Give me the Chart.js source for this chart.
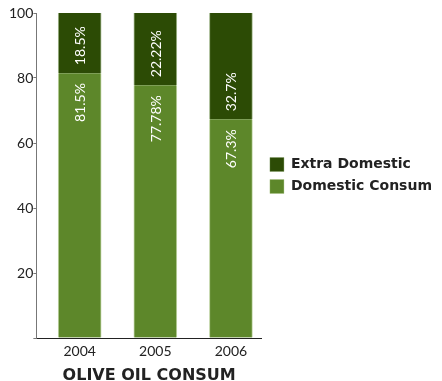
<!DOCTYPE html>
<html>
<head>
<meta charset="utf-8">
<script src="https://cdn.jsdelivr.net/npm/chart.js@4/dist/chart.umd.min.js"></script>
<style>
	body { margin: 0; background: #fff; }
	#myChart { display: block; }
</style>
</head>
<body>
<canvas id="myChart" width="442" height="381"></canvas>
<script>

var years = ["2004", "2005", "2006"];
var domesticConsum = [81.5, 77.78, 67.3];
var extraDomestic = [18.5, 22.22, 32.7];
var yTicks = [0, 20, 40, 60, 80, 100];

var darkGreen = "#2c4b05";
var lightGreen = "#5d872a";

// writes the percentage sideways inside each bar segment
var segmentLabels = {
	id: "segmentLabels",
	afterDatasetsDraw: function(chart){
		var ctx = chart.ctx;
		ctx.save();
		ctx.fillStyle = "#fff";
		ctx.font = "14px Lato";
		ctx.textBaseline = "middle";
		chart.data.datasets.forEach(function(ds, d){
			var meta = chart.getDatasetMeta(d);
			meta.data.forEach(function(bar, i){
				var txt = ds.data[i].y + "%";
				ctx.save();
				if (d == 0) {
					ctx.translate(bar.x, bar.y + 10);
					ctx.rotate(-Math.PI / 2);
					ctx.textAlign = "right";
				} else {
					ctx.translate(bar.x, bar.base - 8);
					ctx.rotate(-Math.PI / 2);
					ctx.textAlign = "left";
				}
				ctx.fillText(txt, 0, 1);
				ctx.restore();
			});
		});
		ctx.restore();
	}
};

function points(values){
	return values.map(function(v, i){ return {x: i, y: v}; });
}

var ctx = document.getElementById("myChart");
var chartInstance = new Chart(ctx, {
	type: "bar",
	data: {
		datasets: [
			{
				label: "Domestic Consum",
				backgroundColor: lightGreen,
				borderColor: "rgba(160,190,120,0.7)",
				borderWidth: {left: 1, right: 1, top: 0, bottom: 0},
				borderSkipped: false,
				barThickness: 43,
				data: points(domesticConsum)
			},
			{
				label: "Extra Domestic",
				backgroundColor: darkGreen,
				borderColor: "rgba(120,150,90,0.7)",
				borderWidth: {left: 1, right: 1, top: 0, bottom: 0},
				borderSkipped: false,
				barThickness: 43,
				data: points(extraDomestic)
			}
		]
	},
	options: {
		responsive: false,
		animation: false,
		layout: {
			padding: {top: 13, left: 9, right: 0, bottom: -4}
		},
		plugins: {
			tooltip: {enabled: false},
			legend: {
				position: "right",
				reverse: true,
				fullSize: false,
				maxWidth: 182,
				labels: {
					boxWidth: 14,
					boxHeight: 14,
					padding: 8,
					color: "#222",
					font: {family: "DejaVu Sans", weight: "bold", size: 14}
				}
			}
		},
		scales: {
			x: {
				type: "linear",
				stacked: true,
				offset: false,
				min: -0.573,
				max: 2.41,
				grid: {display: false, drawTicks: false},
				border: {color: "#222", width: 1},
				afterBuildTicks: function(scale){
					scale.ticks = years.map(function(y, i){ return {value: i}; });
				},
				ticks: {
					color: "#222",
					padding: 5,
					font: {family: "Lato", size: 14},
					callback: function(value){ return years[value]; }
				},
				title: {
					display: true,
					text: "OLIVE OIL CONSUM",
					color: "#222",
					padding: {top: 1, bottom: 0},
					font: {family: "DejaVu Sans", weight: "bold", size: 16}
				}
			},
			y: {
				stacked: true,
				min: 0,
				max: 100,
				afterBuildTicks: function(scale){
					scale.ticks = yTicks.map(function(v){ return {value: v}; });
				},
				grid: {
					drawOnChartArea: false,
					tickLength: 3,
					color: "#777"
				},
				border: {color: "#777", width: 1},
				ticks: {
					color: "#222",
					padding: 0,
					font: {family: "Lato", size: 14},
					callback: function(value){ return value == 0 ? "" : value; }
				}
			}
		}
	},
	plugins: [segmentLabels]
});

</script>
</body>
</html>
